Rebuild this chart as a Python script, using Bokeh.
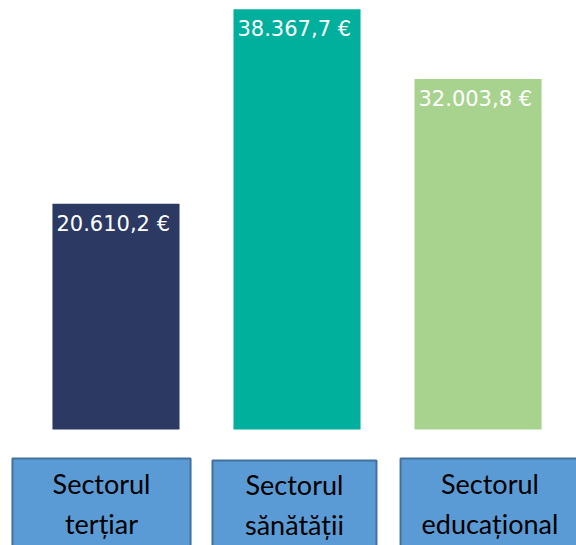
from bokeh.plotting import figure
from bokeh.models import Range1d, ColumnDataSource
from bokeh.core.properties import value
from bokeh.embed import file_html
from bokeh.resources import INLINE

categories = ["Sectorul\nterțiar", "Sectorul\nsănătății", "Sectorul\neducațional"]
values = [20610.2, 38367.7, 32003.8]
bar_colors = ["#2B3963", "#00B09C", "#A8D38F"]


def fmt(v):
    s = f"{v:,.1f}".replace(",", "X").replace(".", ",").replace("X", ".")
    return s + " €"


labels = [fmt(v) for v in values]
xs = [i + 0.5 for i in range(len(values))]

p = figure(width=576, height=545, output_backend="svg", toolbar_location=None,
           x_range=Range1d(-0.138, 3.044), y_range=Range1d(-10594, 39178),
           min_border=0, outline_line_color=None)
p.axis.visible = False
p.grid.visible = False
p.background_fill_color = "white"
p.border_fill_color = "white"

src = ColumnDataSource(dict(x=xs, top=values, color=bar_colors, label=labels,
                            left=[x - 0.351 for x in xs]))
p.vbar(x="x", top="top", bottom=0, width=0.702, fill_color="color", line_color=None, source=src)
p.text(x="left", y="top", text="label", source=src, x_offset=4, y_offset=20,
       text_color="white", text_font=value("DejaVu Sans"), text_font_size="21px",
       text_align="left", text_baseline="alphabetic")

# category boxes (layout in pixel space)
p.extra_y_ranges = {"px": Range1d(545, 0)}
box_left = [-0.072, 1.033, 2.072]
box_right = [0.912, 1.939, 3.06]
box_top = [458, 460, 458]
bsrc = ColumnDataSource(dict(left=box_left, right=box_right, top=box_top,
                             bottom=[560, 560, 560], cat=categories,
                             cx=[(a + b) / 2 for a, b in zip(box_left, box_right)],
                             cy=[503, 504, 503]))
p.quad(left="left", right="right", top="top", bottom="bottom", source=bsrc,
       y_range_name="px", fill_color="#5B9BD5", line_color="#41719C", line_width=2)
p.text(x="cx", y="cy", text="cat", source=bsrc, y_range_name="px",
       text_color="black", text_font=value("Lato"), text_font_size="27px",
       text_align="center", text_baseline="middle", text_line_height=1.2)

open("out.html", "w").write(file_html(p, INLINE))
